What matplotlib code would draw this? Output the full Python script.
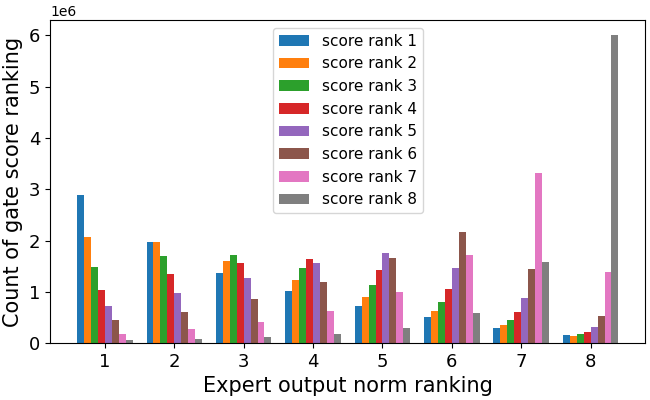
import numpy as np
import matplotlib
matplotlib.use('Agg')
import matplotlib.pyplot as plt

ranks = [1, 2, 3, 4, 5, 6, 7, 8]
series_labels = [f'score rank {i}' for i in ranks]

# counts per expert-output-norm ranking (rows = score rank, cols = norm ranking)
rank1 = [2.89e6, 1.97e6, 1.37e6, 1.02e6, 0.73e6, 0.51e6, 0.29e6, 0.16e6]
rank2 = [2.07e6, 1.97e6, 1.60e6, 1.23e6, 0.90e6, 0.63e6, 0.35e6, 0.14e6]
rank3 = [1.48e6, 1.70e6, 1.72e6, 1.47e6, 1.13e6, 0.80e6, 0.45e6, 0.18e6]
rank4 = [1.03e6, 1.35e6, 1.56e6, 1.64e6, 1.43e6, 1.06e6, 0.60e6, 0.21e6]
rank5 = [0.73e6, 0.98e6, 1.27e6, 1.56e6, 1.76e6, 1.47e6, 0.88e6, 0.31e6]
rank6 = [0.45e6, 0.61e6, 0.86e6, 1.19e6, 1.66e6, 2.16e6, 1.44e6, 0.53e6]
rank7 = [0.18e6, 0.28e6, 0.41e6, 0.63e6, 1.00e6, 1.71e6, 3.31e6, 1.38e6]
rank8 = [0.065e6, 0.08e6, 0.12e6, 0.18e6, 0.30e6, 0.58e6, 1.58e6, 6.00e6]
all_series = [rank1, rank2, rank3, rank4, rank5, rank6, rank7, rank8]

fig, ax = plt.subplots(figsize=(6.5, 4), dpi=100)
x = np.array(ranks)
width = 0.1
for i, (vals, lab) in enumerate(zip(all_series, series_labels)):
    ax.bar(x + (i - 3.5) * width, vals, width, label=lab)

ax.set_xticks(x)
ax.tick_params(labelsize=13)
ax.set_xlabel('Expert output norm ranking', fontsize=15)
ax.set_ylabel('Count of gate score ranking', fontsize=15)
ax.legend(loc='upper center', fontsize=11)

plt.subplots_adjust(left=0.077, right=0.993, top=0.95, bottom=0.142)
plt.savefig('out.png')
